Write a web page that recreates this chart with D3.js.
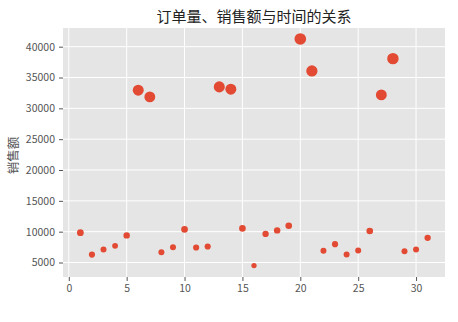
<!DOCTYPE html>
<html>
<head>
<meta charset="utf-8">
<script src="https://cdn.jsdelivr.net/npm/d3@7"></script>
<style>
  html, body { margin: 0; padding: 0; background: #fff; }
  svg { display: block; }
</style>
</head>
<body>
<svg id="chart" width="458" height="322"></svg>
<script>
const days = [1,2,3,4,5,6,7,8,9,10,11,12,13,14,15,16,17,18,19,20,21,22,23,24,25,26,27,28,29,30,31];
const sales = [9840,6290,7100,7700,9400,32940,31860,6680,7490,10370,7430,7590,33480,33110,10530,4510,9630,10210,10970,41250,36070,6890,7980,6290,6940,10110,32180,38060,6840,7100,9000];
const orders = [46,38,36,34,42,120,118,36,36,44,38,38,122,120,44,28,40,42,44,136,126,36,38,36,36,44,118,130,36,36,40];
const xTicks = [0,5,10,15,20,25,30];
const yTicks = [5000,10000,15000,20000,25000,30000,35000,40000];
const title = "订单量、销售额与时间的关系";
const yLabel = "销售额";

const svg = d3.select("#chart");
const m = {left: 63, right: 13, top: 28, bottom: 45};
const W = 458, H = 322;
const pw = W - m.left - m.right, ph = H - m.top - m.bottom;

const x = d3.scaleLinear().domain([-0.5, 32.5]).range([m.left, m.left + pw]);
const y = d3.scaleLinear().domain([2650, 43030]).range([m.top + ph, m.top]);
const r = d3.scaleSqrt().domain([0, 100]).range([0, 5]);

const font = "'Noto Sans CJK SC', 'DejaVu Sans', sans-serif";

svg.append("rect").attr("x", m.left).attr("y", m.top).attr("width", pw).attr("height", ph).attr("fill", "#E5E5E5");

const g = svg.append("g");
g.selectAll("line.gx").data(xTicks).join("line")
  .attr("x1", d => x(d)).attr("x2", d => x(d))
  .attr("y1", m.top).attr("y2", m.top + ph)
  .attr("stroke", "#fff").attr("stroke-width", 1);
g.selectAll("line.gy").data(yTicks).join("line")
  .attr("y1", d => y(d)).attr("y2", d => y(d))
  .attr("x1", m.left).attr("x2", m.left + pw)
  .attr("stroke", "#fff").attr("stroke-width", 1);

const xAxis = svg.append("g").attr("transform", `translate(0,${m.top + ph})`)
  .call(d3.axisBottom(x).tickValues(xTicks).tickSize(4).tickPadding(4).tickFormat(d3.format("d")));
const yAxis = svg.append("g").attr("transform", `translate(${m.left},0)`)
  .call(d3.axisLeft(y).tickValues(yTicks).tickSize(4).tickPadding(4).tickFormat(d3.format("d")));
[xAxis, yAxis].forEach(a => {
  a.select(".domain").remove();
  a.selectAll(".tick line").attr("stroke", "#555");
  a.selectAll(".tick text").attr("fill", "#555").attr("font-size", 10.5).attr("font-family", font);
});

svg.append("g").selectAll("circle").data(days).join("circle")
  .attr("cx", (d) => x(d))
  .attr("cy", (d, i) => y(sales[i]))
  .attr("r", (d, i) => r(orders[i]))
  .attr("fill", "#E24A33");

svg.append("text").attr("x", m.left + pw / 2).attr("y", 22)
  .attr("text-anchor", "middle").attr("font-size", 15).attr("fill", "#222")
  .attr("font-family", font).text(title);

svg.append("text").attr("transform", `translate(18,${m.top + ph / 2 + 3}) rotate(-90)`)
  .attr("text-anchor", "middle").attr("font-size", 12.5).attr("fill", "#555")
  .attr("font-family", font).text(yLabel);
</script>
</body>
</html>
